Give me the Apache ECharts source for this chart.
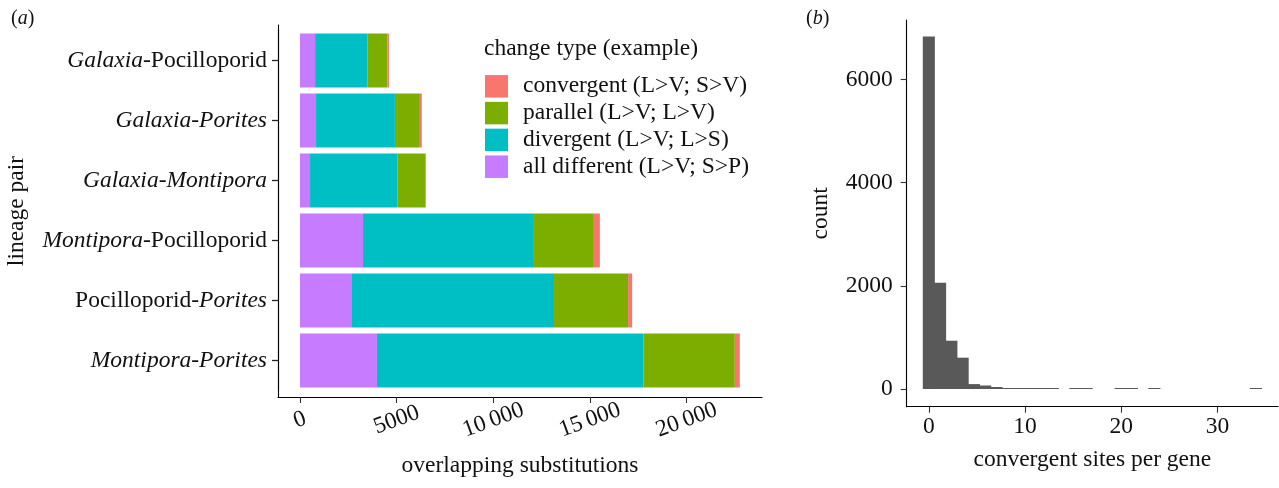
<!DOCTYPE html>
<html><head><meta charset="utf-8">
<script src="https://cdn.jsdelivr.net/npm/echarts@6/dist/echarts.min.js"></script>
<style>html,body{margin:0;padding:0;background:#fff}#c{width:1279px;height:488px}</style>
</head><body><div id="c"></div>
<script>
// ---- data: panel (a) ----
const categories = ['Galaxia-Pocilloporid','Galaxia-Porites','Galaxia-Montipora','Montipora-Pocilloporid','Pocilloporid-Porites','Montipora-Porites'];
const italicNames = ['Galaxia','Montipora','Porites'];
const changeTypes = ['convergent (L>V; S>V)','parallel (L>V; L>V)','divergent (L>V; L>S)','all different (L>V; S>P)'];
const allDifferent = [780, 830, 520, 3260, 2690, 3980];
const divergent   = [2720, 4080, 4530, 8840, 10450, 13790];
const parallel    = [1020, 1290, 1430, 3100, 3830, 4720];
const convergent  = [80, 100, 35, 310, 210, 260];
const xTicksA = [0, 5000, 10000, 15000, 20000];
// ---- data: panel (b) ----
const binCenters = [0, 1.172, 2.345, 3.517, 4.690, 5.862, 7.034, 8.207, 9.379, 10.552, 11.724, 12.897, 14.069, 15.241, 16.414, 17.586, 18.759, 19.931, 21.103, 22.276, 23.448, 24.621, 25.793, 26.966, 28.138, 29.310, 30.483, 31.655, 32.828, 34.000];
const binCounts  = [6830, 2060, 936, 607, 95, 68, 39, 15, 14, 12, 10, 5, null, 3, 3, null, null, 2, 2, null, 3, null, null, null, null, null, null, null, null, 2];
const xTicksB = [0, 10, 20, 30];
const yTicksB = [0, 2000, 4000, 6000];

const FF = '"Liberation Serif", "DejaVu Serif", serif';
const FS = 23.5;
const TXT = '#111';
const txt = {fontFamily: FF, fontSize: FS, color: TXT};
const colors = {conv: '#F8766D', par: '#7CAE00', div: '#00BFC4', all: '#C77CFF'};

function fmtThousands(v) {
  const s = String(v);
  return v >= 10000 ? s.slice(0, s.length - 3) + '\u2009' + s.slice(-3) : s;
}
function fmtPlain(v) { return String(v); }
function fmtCategory(v) {
  return v.split('-').map(p => italicNames.includes(p) ? '{i|' + p + '}' : '{n|' + p + '}').join('{n|-}');
}
const lineStyle = {color: '#000', width: 1.1};
const tickStyle = {color: '#333', width: 1.1};

// panel (b) geometry
const gridB = {left: 906.7, top: 20, width: 371.3, height: 386.7};
const xRangeB = [-2.3, 36.3];
const binPx = gridB.width / (xRangeB[1] - xRangeB[0]) * (binCenters[1] - binCenters[0]);

const chart = echarts.init(document.getElementById('c'), null, {renderer: 'canvas'});
const option = {
  animation: false,
  backgroundColor: '#fff',
  title: [
    {text: '({i|a})', left: 11, top: 9, padding: 0,
     textStyle: {fontFamily: FF, fontSize: 20, color: TXT, fontWeight: 'normal',
       rich: {i: {fontFamily: FF, fontSize: 20, color: TXT, fontStyle: 'italic'}}}},
    {text: '({i|b})', left: 806, top: 9, padding: 0,
     textStyle: {fontFamily: FF, fontSize: 20, color: TXT, fontWeight: 'normal',
       rich: {i: {fontFamily: FF, fontSize: 20, color: TXT, fontStyle: 'italic'}}}},
    {text: 'change type (example)', left: 484, top: 36.5, padding: 0,
     textStyle: {fontFamily: FF, fontSize: FS, color: TXT, fontWeight: 'normal'}}
  ],
  legend: {
    data: changeTypes, orient: 'vertical', left: 485, top: 74.3, padding: 0,
    itemWidth: 23, itemHeight: 22.5, itemGap: 2.8, icon: 'rect', selectedMode: false,
    textStyle: {fontFamily: FF, fontSize: FS, color: TXT, lineHeight: 22.5, padding: [0, 0, 0, 10]}
  },
  grid: [
    {left: 278, top: 30.5, width: 484, height: 360},
    {left: 278, top: 25, width: 484, height: 372},
    gridB
  ],
  xAxis: [
    {gridIndex: 0, type: 'value', min: -1138, max: 23897, show: false},
    {gridIndex: 1, type: 'value', min: -1138, max: 23897,
     axisLine: {show: true, onZero: false, lineStyle: lineStyle},
     axisTick: {show: true, length: 6, lineStyle: tickStyle, customValues: xTicksA},
     axisLabel: {customValues: xTicksA, rotate: 20, align: 'center', verticalAlign: 'middle', margin: 23,
                 formatter: fmtThousands, ...txt},
     splitLine: {show: false},
     name: 'overlapping substitutions', nameLocation: 'middle', nameGap: 57, nameTextStyle: txt},
    {gridIndex: 2, type: 'value', min: xRangeB[0], max: xRangeB[1],
     axisLine: {show: true, onZero: false, lineStyle: lineStyle},
     axisTick: {show: true, length: 6, lineStyle: tickStyle, customValues: xTicksB},
     axisLabel: {customValues: xTicksB, margin: 8, formatter: fmtPlain, ...txt},
     splitLine: {show: false},
     name: 'convergent sites per gene', nameLocation: 'middle', nameGap: 41, nameTextStyle: txt}
  ],
  yAxis: [
    {gridIndex: 0, type: 'category', data: categories, inverse: true,
     axisLine: {show: true, onZero: false, lineStyle: lineStyle},
     axisTick: {show: true, alignWithLabel: true, interval: 0, length: 6, lineStyle: {color: '#222', width: 1.3}},
     axisLabel: {margin: 11, formatter: fmtCategory, ...txt,
       rich: {i: {...txt, fontStyle: 'italic'}, n: {...txt}}},
     splitLine: {show: false}},
    {gridIndex: 1, type: 'value', min: 0, max: 1,
     axisLine: {show: true, onZero: false, lineStyle: lineStyle},
     axisTick: {show: false}, axisLabel: {show: false}, splitLine: {show: false},
     name: 'lineage pair', nameLocation: 'middle', nameGap: 249, nameRotate: 90, nameTextStyle: txt},
    {gridIndex: 2, type: 'value', min: -343, max: 7151,
     axisLine: {show: true, onZero: false, lineStyle: lineStyle},
     axisTick: {show: true, length: 6, lineStyle: tickStyle, customValues: yTicksB},
     axisLabel: {customValues: yTicksB, margin: 14, formatter: fmtPlain, ...txt},
     splitLine: {show: false},
     name: 'count', nameLocation: 'middle', nameGap: 74, nameRotate: 90, nameTextStyle: txt}
  ],
  series: [
    {name: changeTypes[3], type: 'bar', stack: 'a', xAxisIndex: 0, yAxisIndex: 0, barWidth: '90%', data: allDifferent, itemStyle: {color: colors.all}},
    {name: changeTypes[2], type: 'bar', stack: 'a', xAxisIndex: 0, yAxisIndex: 0, barWidth: '90%', data: divergent, itemStyle: {color: colors.div}},
    {name: changeTypes[1], type: 'bar', stack: 'a', xAxisIndex: 0, yAxisIndex: 0, barWidth: '90%', data: parallel, itemStyle: {color: colors.par}},
    {name: changeTypes[0], type: 'bar', stack: 'a', xAxisIndex: 0, yAxisIndex: 0, barWidth: '90%', data: convergent, itemStyle: {color: colors.conv}},
    {name: 'hist', type: 'bar', xAxisIndex: 2, yAxisIndex: 2, barWidth: binPx + 0.8, barMinHeight: 1,
     data: binCenters.map((c, i) => [c, binCounts[i]]),
     itemStyle: {color: '#595959'}}
  ]
};
chart.setOption(option);
</script>
</body></html>
